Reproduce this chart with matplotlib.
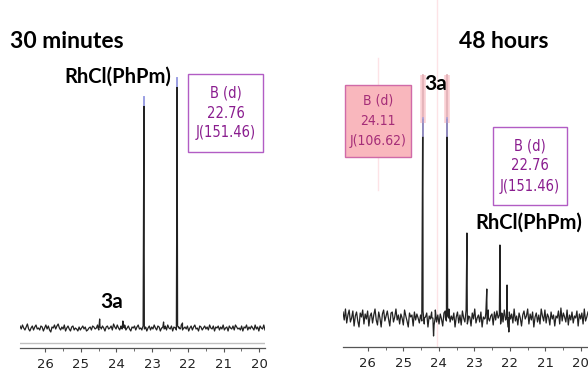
import numpy as np
import matplotlib
matplotlib.use("Agg")
import matplotlib.pyplot as plt
from matplotlib.patches import Rectangle

W, H = 588, 374

# chemical shift ticks (ppm)
tick_ppm = [26, 25, 24, 23, 22, 21, 20]

# 30 minutes spectrum: peaks (ppm, height above baseline)
peaks_30 = [(24.47, 9), (23.82, 7), (23.23, 231), (22.68, 6), (22.30, 250), (22.15, 5)]
noise_30 = [2, -1, 3, 0, -2, 1, 4, -1, -3, 0, 2, -2, 1, 3, -1, 0, -2, 2, 1, -3,
            0, 3, -1, 2, -2, -4, 1, 0, 3, -1, 2, 4, 0, -2, 1, -1, 3, -3, 0, 2,
            -1, -3, 1, 2, -2, 0, -1, -3, 1, -2, 0, 2, -1, 1, -3, -2, 0, 1, -2, 2,
            1, -1, 0, 3, -2, 1, -1, 2, 0, -3, 1, 2, -1, 0, 2, -2, 4, 1, -1, 3,
            0, -2, 2, -1, 1, 3, -2, 0, 2, -1, -3, 1, 0, 2, -2, 1, 3, -1, 0, -2,
            2, -1, 1, -3, 0, 2, -2, 1, -1, 3, 0, -2, 2, 1, -3, 0, 1, -1, 2, -2,
            3, 0, -1, 2, -3, 1, 0, -2, 2, 1, -1, 3, -2, 0, 1, -1, 2, -3, 0, 2,
            -2, 1, 3, -1, 0, -3, 2, 1, -2, 0, 2, -1, 1, -2, 3, 0, -1, 2, -3, 1,
            0, 2, -2, 1, -1, 3, -2, 0, 1, -3, 2, 0, -1, 2, -2, 3, 1, -1, 0, -2,
            2, -3, 1, 0, 3, -2, 1, -1, 2, 0, -2, 3, -1, 1, -3, 2, 0, -1, 3, -2]

# 48 hours spectrum
peaks_48 = [(24.45, 243), (24.15, -18), (23.77, 243), (23.21, 85), (22.65, 29),
            (22.28, 73), (22.08, 33), (22.03, -14)]
noise_48 = [6, -2, 9, -5, 3, 8, -4, 0, 7, -8, 2, 6, -3, -9, 5, 1, 8, -6, 4, -1,
            7, -8, 2, 5, -5, 3, 9, -2, -7, 6, 0, -9, 4, 8, -3, 2, 7, -1, -8, 5,
            6, -4, 1, 9, -2, 3, -6, 4, 0, -7, 8, 2, -3, -9, 5, 1, 3, -8, 6, -2,
            4, 0, -5, 3, -3, 7, -6, 1, 5, -9, 2, -1, 6, 0, -7, 8, -4, 3, -6, 4,
            -1, -8, 5, 7, -3, 2, 9, -4, 2, -2, 5, -9, 1, 6, -5, 3, -7, 7, 0, -4,
            8, -6, 2, 1, -8, 5, -1, 9, -5, 0, 3, -4, 6, -9, 1, -1, 5, -6, 8, -3,
            2, 4, -7, 6, -2, 7, 0, 3, -6, 5, -4, 8, -2, 1, -9, 6, -1, 4, -5, 9,
            -3, 2, -7, 5, 0, -8, 3, 7, -1, 2, 9, -6, 4, -2, 6, -9, 1, 5, -4, 3,
            -6, 9, 2, -3, 8, -5, 4, 1, -7, 6, -1, 3, -8, 2, 0, 7, -6, 10, -3, 5,
            1, -4, 8, -7, 3, -2, 6, -5, 2, 0, 7, -8, 4, -1, 5, -6, 9, -3, 1, 6]


def px(x, y):
    return x / W, 1 - y / H


def build(noise, peaks, lo, hi, w=0.045):
    x = list(np.linspace(lo, hi, len(noise)))
    y = list(noise)
    for p, h in peaks:
        x += [p + w, p, p - w]
        y += [0, h, 0]
    order = np.argsort(x)[::-1]
    return np.array(x)[order], np.array(y)[order]


def style_axis(ax):
    for s in ["left", "right", "top"]:
        ax.spines[s].set_visible(False)
    ax.spines["bottom"].set_color("#555555")
    ax.spines["bottom"].set_linewidth(0.9)
    ax.set_yticks([])
    ax.set_xticks(tick_ppm)
    ax.set_xticks(np.array(tick_ppm[:-1]) - 0.5, minor=True)
    ax.tick_params(axis="x", which="major", length=3, color="#555555",
                   labelsize=9.5, labelcolor="#222222", pad=4)
    ax.tick_params(axis="x", which="minor", length=2, color="#555555")
    ax.patch.set_visible(False)


fig = plt.figure(figsize=(W / 100, H / 100), dpi=100)

# left panel: 30 minutes
ax1 = fig.add_axes([20 / W, 26 / H, 245 / W, 348 / H])
x1, y1 = build(noise_30, peaks_30, 26.70, 19.84)
ax1.plot(x1, y1, color="#222222", lw=0.9)
ax1.axhline(-15, color="#c0c0c0", lw=1)
for p, h in peaks_30:
    if h > 100:
        ax1.plot([p, p], [h - 8, h], color="#a0a4e8", lw=1.4)
ax1.set_xlim(26.70, 19.84)
ax1.set_ylim(-20, 328)
style_axis(ax1)

# right panel: 48 hours
ax2 = fig.add_axes([343 / W, 27 / H, 245 / W, 347 / H])
ax2.axvline(24.06, color="#fde3e6", lw=1, zorder=0)
ax2.plot([25.72, 25.72], [128, 260], color="#fde3e6", lw=1, zorder=0)
x2, y2 = build(noise_48, peaks_48, 26.70, 19.80)
ax2.plot(x2, y2, color="#222222", lw=0.9)
for p in [24.45, 23.77]:
    ax2.plot([p, p], [195, 243], color="#f7a8b0", lw=4, alpha=0.55, solid_capstyle="butt")
    ax2.plot([p, p], [200, 243], color="#f5c4cb", lw=1.2)
    ax2.plot([p, p], [182, 200], color="#a7a0dc", lw=1.2)
ax2.set_xlim(26.70, 19.80)
ax2.set_ylim(-29, 318)
style_axis(ax2)

# labels
bold = dict(family=["Lato", "DejaVu Sans"], fontweight="bold", color="black")
fig.text(*px(10, 42), "30 minutes", fontsize=16.5, ha="left", va="center", **bold)
fig.text(*px(459, 41), "48 hours", fontsize=16.5, ha="left", va="center", **bold)
fig.text(*px(118, 77), "RhCl(PhPm)", fontsize=14.5, ha="center", va="center", **bold)
fig.text(*px(529, 223), "RhCl(PhPm)", fontsize=14.5, ha="center", va="center", **bold)
fig.text(*px(112, 302), "3a", fontsize=15, ha="center", va="center", **bold)
fig.text(*px(436, 84), "3a", fontsize=15, ha="center", va="center", **bold)

# annotation boxes: (x0, y0, x1, y1, lines, face, edge, text colour)
boxes = [
    (188, 74, 263, 152, ["B (d)", "22.76", "J(151.46)"], "white", "#b25cc4", "#8a1d8f"),
    (345, 85, 411, 157, ["B (d)", "24.11", "J(106.62)"], "#f9b7bd", "#d06aa8", "#a52d78"),
    (493, 127, 567, 205, ["B (d)", "22.76", "J(151.46)"], "white", "#b25cc4", "#8a1d8f"),
]
for bx0, by0, bx1, by1, lines, fc, ec, tc in boxes:
    fx, fy = px(bx0, by1)
    fig.add_artist(Rectangle((fx, fy), (bx1 - bx0) / W, (by1 - by0) / H,
                             transform=fig.transFigure, facecolor=fc, edgecolor=ec, lw=1))
    cx = (bx0 + bx1) / 2
    cy = (by0 + by1) / 2
    size = 10.5 if bx1 - bx0 > 70 else 10
    for i, t in enumerate(lines):
        fig.text(*px(cx, cy + (i - 1) * 20), t, fontsize=size, ha="center", va="center",
                 color=tc, family=["DejaVu Sans"], fontstretch="condensed")

fig.savefig("out.png", dpi=100)
